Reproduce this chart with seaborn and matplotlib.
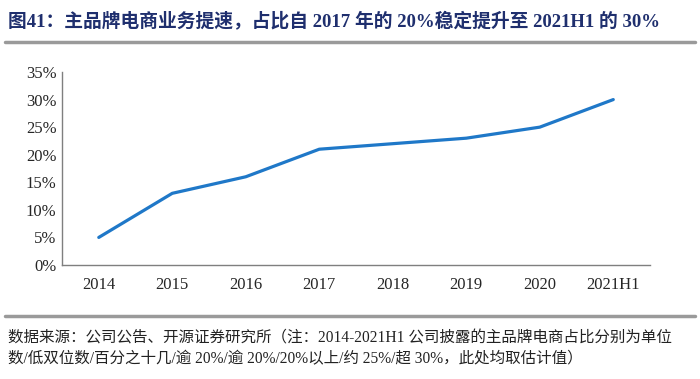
import pandas as pd
import numpy as np
import seaborn as sns
import matplotlib.pyplot as plt
from matplotlib.ticker import FixedLocator, PercentFormatter

years = ['2014', '2015', '2016', '2017', '2018', '2019', '2020', '2021H1']
share = [5, 13, 16, 21, 22, 23, 25, 30]
yticks = [0, 5, 10, 15, 20, 25, 30, 35]

title = '图41：主品牌电商业务提速，占比自 2017 年的 20%稳定提升至 2021H1 的 30%'
note1 = '数据来源：公司公告、开源证券研究所（注：2014-2021H1 公司披露的主品牌电商占比分别为单位'
note2 = '数/低双位数/百分之十几/逾 20%/逾 20%/20%以上/约 25%/超 30%，此处均取估计值）'

df = pd.DataFrame({'year': years, 'share': share})

sns.set_style('white')
fonts = ['Liberation Serif', 'Noto Sans CJK SC', 'DejaVu Sans']
plt.rcParams['font.family'] = fonts

fig = plt.figure(figsize=(7, 3.79), dpi=100)
ax = fig.add_axes([0.0886, 0.3008, 0.84, 0.5092])

sns.lineplot(data=df, x='year', y='share', color='#1f78c8', linewidth=2.3, ax=ax)

ax.set_xlim(-0.5, len(years) - 0.5)
ax.set_ylim(0, 35)
ax.set_yticks(yticks)
ax.yaxis.set_major_formatter(PercentFormatter(decimals=0))
# ticks on category boundaries, labels in the middle
ax.xaxis.set_major_locator(FixedLocator(np.arange(len(years) + 1) - 0.5))
ax.xaxis.set_minor_locator(FixedLocator(np.arange(len(years))))
ax.set_xticklabels([], minor=False)
ax.set_xticklabels(years, minor=True)
ax.tick_params(axis='x', which='major', direction='in', length=5, color='#7f7f7f', width=1)
ax.tick_params(axis='x', which='minor', length=0, pad=9, labelsize=12)
ax.tick_params(axis='y', direction='in', length=5, color='#7f7f7f', width=1, labelsize=12, pad=4)
ax.set_xlabel('')
ax.set_ylabel('')
for s in ['top', 'right']:
    ax.spines[s].set_visible(False)
for s in ['left', 'bottom']:
    ax.spines[s].set_color('#7f7f7f')
    ax.spines[s].set_linewidth(1)

fig.text(0.011, 0.945, title, fontsize=13.5, fontweight='bold', color='#1f2f6e',
         va='center', ha='left', family=fonts)
fig.add_artist(plt.Line2D([0.007, 0.993], [0.889, 0.889], color='#9a9a9a', linewidth=2.5))
fig.add_artist(plt.Line2D([0.007, 0.993], [0.165, 0.165], color='#9a9a9a', linewidth=2.5))
fig.text(0.011, 0.108, note1, fontsize=11.2, color='#222222', va='center', ha='left', family=fonts)
fig.text(0.011, 0.053, note2, fontsize=11.2, color='#222222', va='center', ha='left', family=fonts)

fig.savefig('out.png', dpi=100)
